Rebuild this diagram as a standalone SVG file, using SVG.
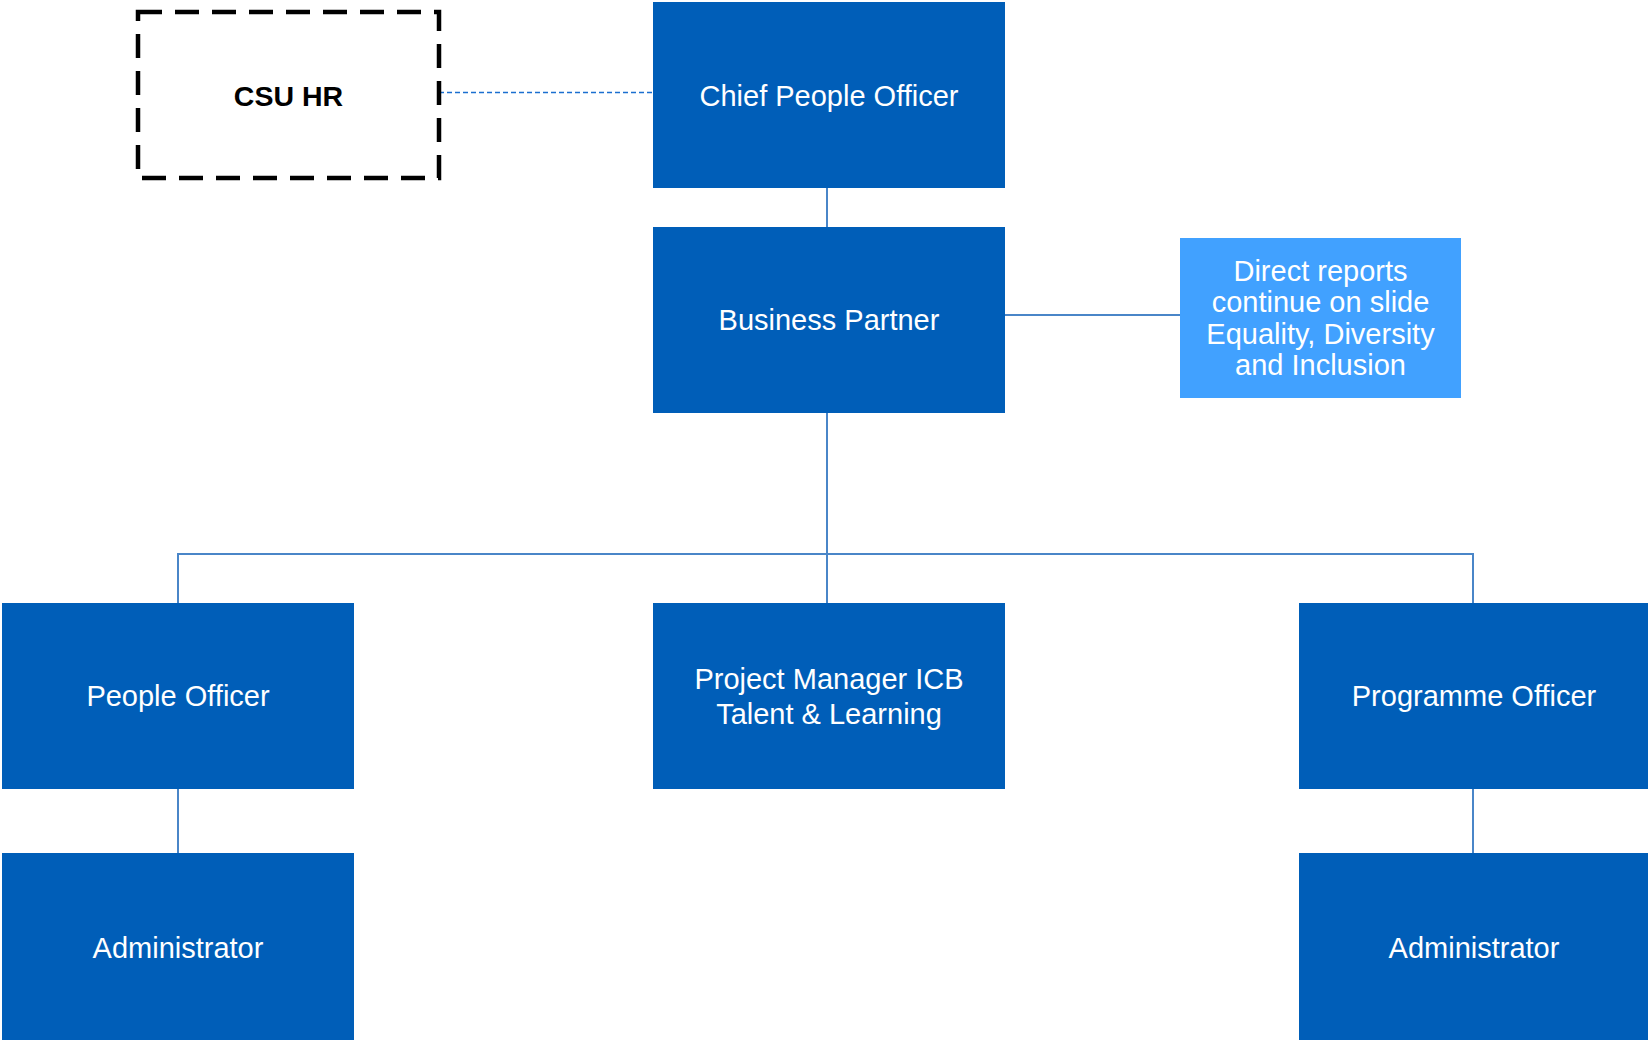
<svg xmlns="http://www.w3.org/2000/svg" width="1648" height="1040" viewBox="0 0 1648 1040">
<style>
.box{fill:#005EB8}
.note{fill:#41A1FF}
.t{font-family:"Liberation Sans",Arial,sans-serif;font-size:29px;fill:#ffffff;text-anchor:middle}
.ln{stroke:#4A86C8;stroke-width:2;fill:none}
</style>
<rect width="1648" height="1040" fill="#ffffff"/>
<g id="connectors">
<line x1="439" y1="92.5" x2="653" y2="92.5" stroke="#1B6FD0" stroke-width="1.5" stroke-dasharray="5 3"/>
<line class="ln" x1="827" y1="188" x2="827" y2="227" stroke="#2A65B0"/>
<line class="ln" x1="1005" y1="315" x2="1180" y2="315"/>
<line class="ln" x1="827" y1="413" x2="827" y2="603" stroke="#2A65B0"/>
<polyline class="ln" points="178,603 178,554 1473,554 1473,603"/>
<line class="ln" x1="178" y1="789" x2="178" y2="853"/>
<line class="ln" x1="1473" y1="789" x2="1473" y2="853" stroke="#2A65B0"/>
</g>
<g id="csu-hr">
<rect x="138" y="12" width="301" height="166" fill="none" stroke="#000000" stroke-width="4.5" stroke-dasharray="24 13"/>
<text x="288.5" y="106" style="font-family:'Liberation Sans',Arial,sans-serif;font-size:28.5px;font-weight:bold;fill:#000000;text-anchor:middle">CSU HR</text>
</g>
<g id="chief-people-officer">
<rect class="box" x="653" y="2" width="352" height="186"/>
<text class="t" x="829" y="105.5">Chief People Officer</text>
</g>
<g id="business-partner">
<rect class="box" x="653" y="227" width="352" height="186"/>
<text class="t" x="829" y="330">Business Partner</text>
</g>
<g id="direct-reports">
<rect class="note" x="1180" y="238" width="281" height="160"/>
<text class="t" x="1320.5" y="280.5">Direct reports</text>
<text class="t" x="1320.5" y="312">continue on slide</text>
<text class="t" x="1320.5" y="343.5">Equality, Diversity</text>
<text class="t" x="1320.5" y="375">and Inclusion</text>
</g>
<g id="people-officer">
<rect class="box" x="2" y="603" width="352" height="186"/>
<text class="t" x="178" y="706">People Officer</text>
</g>
<g id="project-manager">
<rect class="box" x="653" y="603" width="352" height="186"/>
<text class="t" x="829" y="689">Project Manager ICB</text>
<text class="t" x="829" y="724">Talent &amp; Learning</text>
</g>
<g id="programme-officer">
<rect class="box" x="1299" y="603" width="352" height="186"/>
<text class="t" x="1474" y="706">Programme Officer</text>
</g>
<g id="administrator-left">
<rect class="box" x="2" y="853" width="352" height="187"/>
<text class="t" x="178" y="958">Administrator</text>
</g>
<g id="administrator-right">
<rect class="box" x="1299" y="853" width="352" height="187"/>
<text class="t" x="1474" y="958">Administrator</text>
</g>
</svg>
